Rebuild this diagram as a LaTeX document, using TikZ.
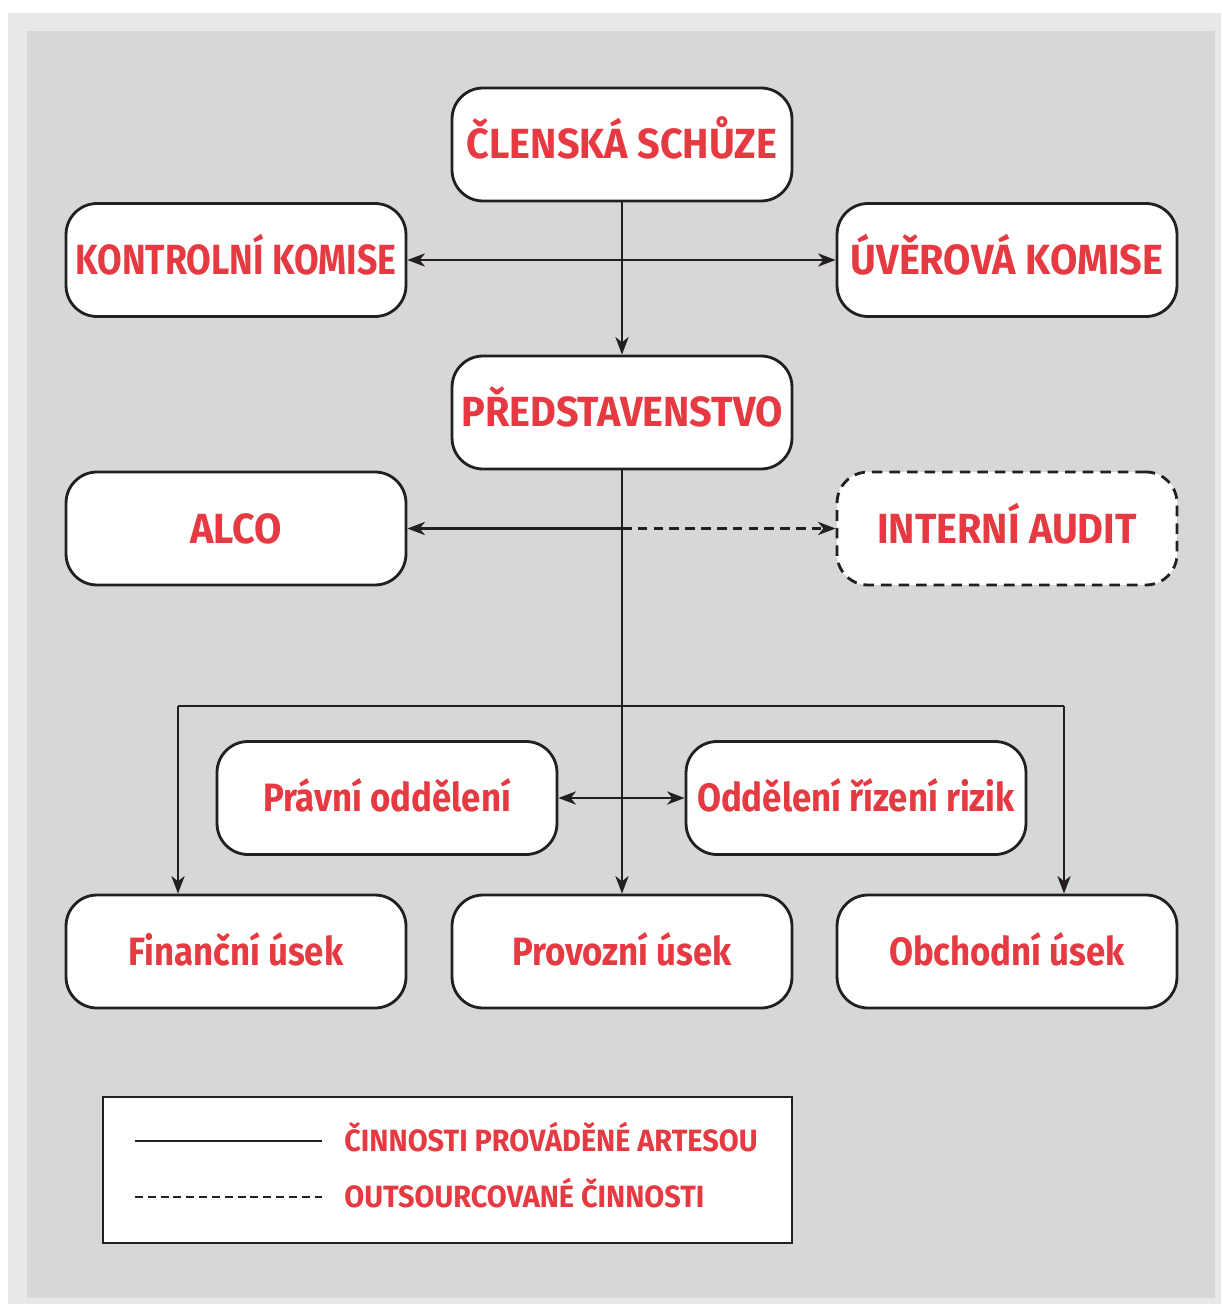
\documentclass[tikz,border=0pt]{standalone}
\usepackage{fontspec}
\setmainfont{Fira Sans}
\newfontfamily\boxfont{Fira Sans}[FakeStretch=0.94]
\newfontfamily\subfont{Fira Sans}[FakeStretch=0.88]
\usetikzlibrary{arrows.meta,positioning}

\definecolor{redtext}{HTML}{E63A43}
\definecolor{panel}{HTML}{D6D7D9}
\definecolor{outerpanel}{HTML}{E8E8E8}
\definecolor{ink}{HTML}{231F20}

\begin{document}
\begin{tikzpicture}[x=0.02cm,y=-0.02cm]

        % box and connector looks
        \tikzset{
            unit/.style={draw=ink, fill=white, line width=1.6pt,
                rounded corners=0.62cm, minimum width=6.8cm,
                minimum height=2.26cm, inner sep=0pt,
                text height=16.5pt, text depth=0pt,
                text=redtext, font=\boxfont\bfseries\fontsize{24}{28}\selectfont},
            subunit/.style={unit, text height=15.5pt,
                font=\subfont\bfseries\fontsize{22.5}{26}\selectfont},
            outsourced/.style={unit, dashed, dash pattern=on 6pt off 4pt},
            link/.style={draw=ink, line width=1.4pt,
                -{Stealth[length=10pt,width=7.5pt,inset=3pt]}},
            plain/.style={draw=ink, line width=1.4pt},
            legendtext/.style={anchor=west, inner sep=0pt, text=redtext,
                text height=12pt, text depth=0pt,
                font=\boxfont\bfseries\fontsize{17.5}{20}\selectfont}
        }

        % background panels
        \fill[white] (0,0) rectangle (1221,1304);
        \fill[outerpanel] (8,13) rectangle (1221,1304);
        \fill[panel] (27,31) rectangle (1215,1298);
        \useasboundingbox (0,0) rectangle (1221,1304);

        % governing bodies
        \node[unit] (schuze) at (622,144.5) {ČLENSKÁ SCHŮZE};
        \node[unit] (kontrolni) at (236,260)
            {\scalebox{0.9}[1]{KONTROLNÍ KOMISE}};
        \node[unit] (uverova) at (1007,260) {ÚVĚROVÁ KOMISE};
        \node[unit] (predst) at (622,412.5) {PŘEDSTAVENSTVO};
        \node[unit] (alco) at (236,528.5) {ALCO};
        \node[outsourced] (audit) at (1007,528.5) {INTERNÍ AUDIT};

        % departments
        \node[subunit] (pravni) at (387,798) {Právní oddělení};
        \node[subunit] (rizika) at (856,798) {Oddělení řízení rizik};
        \node[subunit] (financni) at (236,951.5) {Finanční úsek};
        \node[subunit] (provozni) at (622,951.5) {Provozní úsek};
        \node[subunit] (obchodni) at (1007,951.5) {Obchodní úsek};

        % junction points
        \coordinate (j1) at (schuze.south |- kontrolni.east);
        \coordinate (j2) at (predst.south |- alco.east);
        \coordinate (j3) at (predst.south |- pravni.east);
        \coordinate (bl) at (178,706);
        \coordinate (br) at (1064,706);

        \begin{scope}
            \draw[link] (schuze) -- (predst);
            \draw[link] (j1) -- (kontrolni);
            \draw[link] (j1) -- (uverova);
            \draw[link] (predst) -- (provozni);
            \draw[link] (j2) -- (alco);
            \draw[link, dashed, dash pattern=on 5.5pt off 3.5pt] (j2) -- (audit);
            \draw[link] (j3) -- (pravni);
            \draw[link] (j3) -- (rizika);
            \draw[plain] (bl) -- (br);
            \draw[link] (bl) -- (bl |- financni.north);
            \draw[link] (br) -- (br |- obchodni.north);
        \end{scope}

        % legend
        \node[draw=ink, fill=white, line width=1.5pt, inner sep=0pt,
            minimum width=13.78cm, minimum height=2.92cm] (legend) at (447.5,1170) {};
        \coordinate (s1) at (135,1141);
        \coordinate (s2) at (322,1141);
        \coordinate (d1) at (135,1197);
        \coordinate (d2) at (322,1197);
        \draw[plain, line width=1.5pt] (s1) -- (s2);
        \draw[plain, line width=1.5pt, dash pattern=on 4.5pt off 2.8pt] (d1) -- (d2);
        \node[legendtext] (solidtext) at (344,1141) {ČINNOSTI PROVÁDĚNÉ ARTESOU};
        \node[legendtext] (dashtext) at (344,1197) {OUTSOURCOVANÉ ČINNOSTI};

\end{tikzpicture}
\end{document}
